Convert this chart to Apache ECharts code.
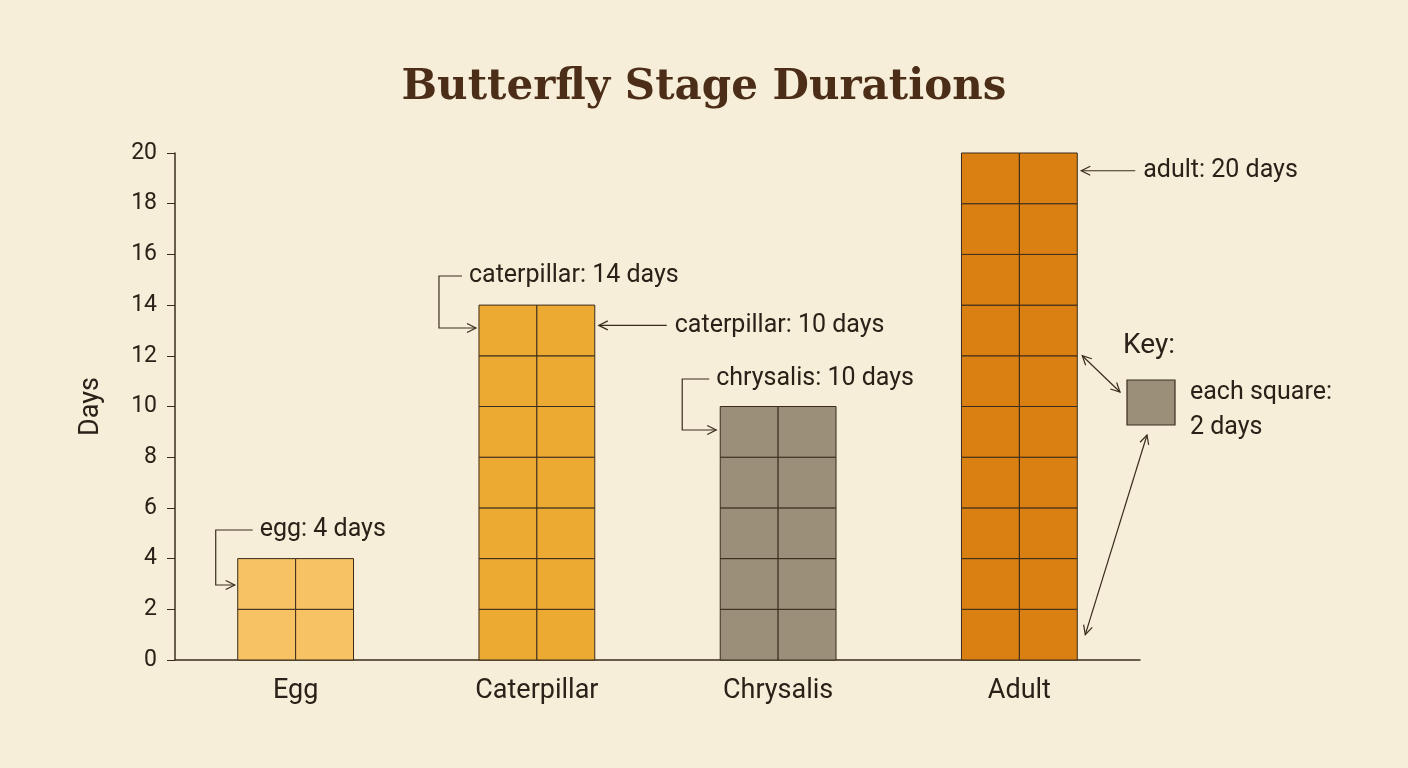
<!DOCTYPE html>
<html>
<head>
<meta charset="utf-8">
<style>
  html, body { margin: 0; padding: 0; background: #f6eed8; }
  #chart { width: 1408px; height: 768px; }
</style>
<script src="https://cdn.jsdelivr.net/npm/echarts@6/dist/echarts.min.js"></script>
</head>
<body>
<div id="chart"></div>
<script>
// data
const stages = ['Egg', 'Caterpillar', 'Chrysalis', 'Adult']
const days = [4, 14, 10, 20]
const stageColors = ['#f6c263', '#ecaa33', '#9b8f7a', '#da8012']
const yTicks = [0, 2, 4, 6, 8, 10, 12, 14, 16, 18, 20]
const daysPerSquare = 2
const barRatio = 0.48

const ink = '#2a2218'
const lineColor = '#3a2c1c'

// little helper: polyline with arrow heads
function arrow(points, heads) {
  const els = [{
    type: 'polyline',
    shape: { points },
    style: { stroke: lineColor, lineWidth: 1.2, fill: null }
  }]
  const head = (tip, from) => {
    const dx = tip[0] - from[0], dy = tip[1] - from[1]
    const len = Math.hypot(dx, dy)
    const ux = dx / len, uy = dy / len
    const s = 9, w = 4.5
    els.push({
      type: 'polyline',
      shape: { points: [
        [tip[0] - ux * s - uy * w, tip[1] - uy * s + ux * w],
        tip,
        [tip[0] - ux * s + uy * w, tip[1] - uy * s - ux * w]
      ] },
      style: { stroke: lineColor, lineWidth: 1.2, fill: null }
    })
  }
  if (heads.end) head(points[points.length - 1], points[points.length - 2])
  if (heads.start) head(points[0], points[1])
  return els
}

function label(text, x, y, size) {
  return {
    type: 'text', x, y,
    style: { text, fill: ink, font: (size || 25) + 'px Roboto', textVerticalAlign: 'middle' }
  }
}

const chart = echarts.init(document.getElementById('chart'))

chart.setOption({
  backgroundColor: '#f6eed8',
  title: {
    text: 'Butterfly Stage Durations',
    left: 'center',
    top: 62,
    textStyle: { fontFamily: 'DejaVu Serif', fontWeight: 'bold', fontSize: 42, color: '#4b2d18' }
  },
  grid: { left: 175, right: 268, top: 153, bottom: 108 },
  xAxis: {
    type: 'category',
    data: stages,
    axisLine: { lineStyle: { color: lineColor, width: 1.5 } },
    axisTick: { show: false },
    axisLabel: { color: ink, fontFamily: 'Roboto', fontSize: 27, margin: 18 }
  },
  yAxis: {
    type: 'value',
    min: 0,
    max: 20,
    interval: 2,
    name: 'Days',
    nameLocation: 'middle',
    nameGap: 70,
    nameTextStyle: { color: ink, fontFamily: 'Roboto', fontSize: 27 },
    axisLine: { show: true, lineStyle: { color: lineColor, width: 1.5 } },
    axisTick: { show: true, length: 8, lineStyle: { color: lineColor } },
    splitLine: { show: false },
    axisLabel: {
      color: ink, fontFamily: 'Roboto', fontSize: 23, margin: 18,
      formatter: v => yTicks.includes(v) ? String(v) : ''
    }
  },
  series: [{
    type: 'custom',
    data: days.map((d, i) => [i, d]),
    renderItem: (params, api) => {
      const idx = api.value(0)
      const val = api.value(1)
      const w = api.size([1, 0])[0] * barRatio
      const base = api.coord([idx, 0])
      const left = base[0] - w / 2
      const children = []
      for (let v = 0; v < val; v += daysPerSquare) {
        const yBot = api.coord([idx, v])[1]
        const yTop = api.coord([idx, v + daysPerSquare])[1]
        for (let c = 0; c < 2; c++) {
          children.push({
            type: 'rect',
            shape: { x: left + c * w / 2, y: yTop, width: w / 2, height: yBot - yTop },
            style: { fill: stageColors[idx], stroke: lineColor, lineWidth: 1 }
          })
        }
      }
      return { type: 'group', children }
    }
  }]
})

// annotations anchored on the bars
const px = (i, v) => chart.convertToPixel({ gridIndex: 0 }, [i, v])
const halfW = (px(1, 0)[0] - px(0, 0)[0]) * barRatio / 2
const barL = i => px(i, 0)[0] - halfW
const barR = i => px(i, 0)[0] + halfW
const yAt = v => px(0, v)[1]

const eL = barL(0), cL = barL(1), cR = barR(1), sL = barL(2), aR = barR(3)

chart.setOption({
  graphic: [
    label('egg: 4 days', eL + 22, 530),
    ...arrow([[eL + 15, 530], [eL - 22, 530], [eL - 22, 585], [eL - 3, 585]], { end: true }),
    label('caterpillar: 14 days', cL - 10, 276),
    ...arrow([[cL - 17, 276], [cL - 40, 276], [cL - 40, 328], [cL - 3, 328]], { end: true }),
    label('caterpillar: 10 days', cR + 80, yAt(13.2)),
    ...arrow([[cR + 72, yAt(13.2)], [cR + 4, yAt(13.2)]], { end: true }),
    label('chrysalis: 10 days', sL - 4, 379),
    ...arrow([[sL - 11, 379], [sL - 38, 379], [sL - 38, 430], [sL - 4, 430]], { end: true }),
    label('adult: 20 days', aR + 66, yAt(19.3)),
    ...arrow([[aR + 58, yAt(19.3)], [aR + 4, yAt(19.3)]], { end: true }),
    label('Key:', 1123, 346, 28),
    {
      type: 'rect',
      shape: { x: 1127, y: 380, width: 48, height: 45 },
      style: { fill: stageColors[2], stroke: lineColor, lineWidth: 1.2 }
    },
    label('each square:', 1190, 393),
    label('2 days', 1190, 428),
    ...arrow([[aR + 5, yAt(12)], [1120, 392]], { start: true, end: true }),
    ...arrow([[1147, 435], [aR + 8, yAt(1)]], { start: true, end: true })
  ]
})
</script>
</body>
</html>
